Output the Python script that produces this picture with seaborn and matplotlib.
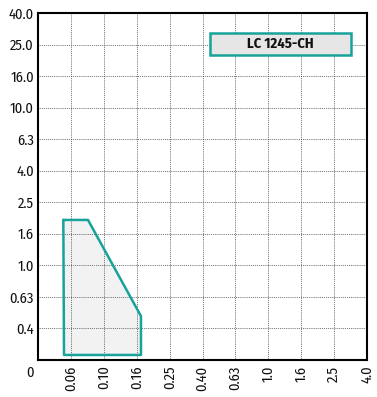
import numpy as np
import matplotlib
matplotlib.use('Agg')
import matplotlib.pyplot as plt
import matplotlib.transforms as mtransforms
from matplotlib.patches import Rectangle
import seaborn as sns

# Tick labels (equally spaced categorical axes).
x_labels = ['0', '0.06', '0.10', '0.16', '0.25', '0.40', '0.63', '1.0', '1.6', '2.5', '4.0']
y_labels = ['', '0.4', '0.63', '1.0', '1.6', '2.5', '4.0', '6.3', '10.0', '16.0', '25.0', '40.0']

# Working range outline, in axis index units.
poly_x = [0.77, 1.52, 3.13, 3.13, 0.79, 0.77]
poly_y = [4.44, 4.44, 1.39, 0.16, 0.16, 4.44]

label = 'LC 1245-CH'
teal = '#17a39a'

sns.set_style('white')
plt.rcParams['font.family'] = ['Fira Sans Condensed', 'DejaVu Sans']

fig = plt.figure(figsize=(3.77, 3.97), dpi=100)
ax = fig.add_axes([38 / 377, 37 / 397, 329 / 377, 347 / 397])

ax.fill(poly_x, poly_y, color='#f0f0f0', alpha=0.85, zorder=1)
sns.lineplot(x=poly_x, y=poly_y, sort=False, estimator=None, color=teal,
             linewidth=1.8, ax=ax, zorder=3)

ax.set_xlim(0, len(x_labels) - 1)
ax.set_ylim(0, len(y_labels) - 1)
ax.set_xticks(range(len(x_labels)))
ax.set_yticks(range(len(y_labels)))
ax.set_xticklabels(x_labels, fontsize=10.5)
ax.set_yticklabels(y_labels, fontsize=10.5)
ax.tick_params(axis='both', length=0, pad=3, labelcolor='#111111')
ax.tick_params(axis='x', pad=4)
for i, t in enumerate(ax.get_xticklabels()):
    if i > 0:
        t.set_rotation(90)
    else:
        # the origin label sits left of the corner
        t.set_transform(t.get_transform() + mtransforms.ScaledTranslation(-0.08, 0, fig.dpi_scale_trans))

ax.grid(True, linestyle=(0, (1, 1.3)), color='#444444', linewidth=0.6, zorder=2)
ax.set_axisbelow(False)
for side in ['left', 'bottom', 'top', 'right']:
    ax.spines[side].set_visible(True)
    ax.spines[side].set_color('black')
    ax.spines[side].set_linewidth(1.5)
    ax.spines[side].set_zorder(4)

ax.add_patch(Rectangle((0.523, 0.879), 0.428, 0.063, transform=ax.transAxes,
                       facecolor='#e6e6e6', edgecolor=teal, linewidth=1.8, zorder=5))
ax.text(0.737, 0.91, label, transform=ax.transAxes, ha='center', va='center',
        fontsize=10.5, fontweight='bold', color='#111111', zorder=6)

fig.savefig('out.png', dpi=100)
